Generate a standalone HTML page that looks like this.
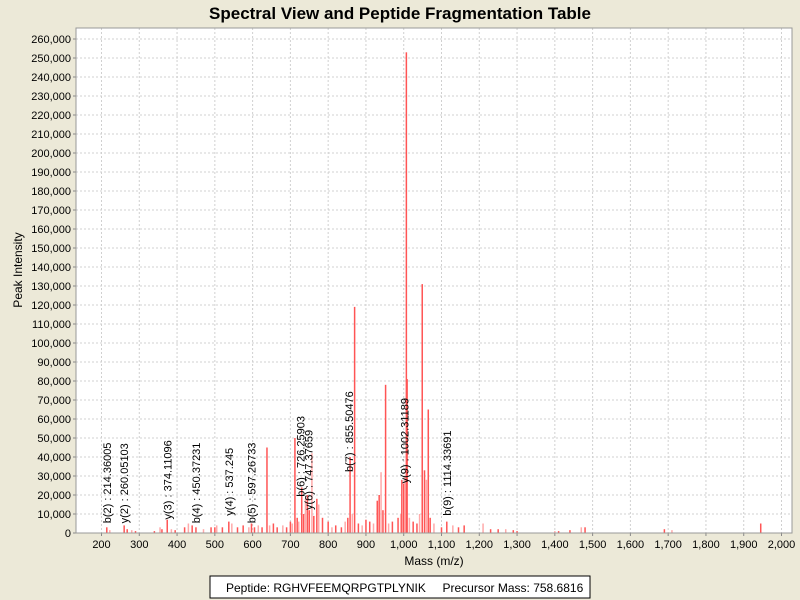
<!DOCTYPE html>
<html><head><meta charset="utf-8"><style>
body{margin:0;background:#ece9d8;font-family:"Liberation Sans",sans-serif;}
svg{display:block}
</style></head><body>
<svg id="chart" width="800" height="600">
<rect width="800" height="600" fill="#ece9d8"/>
<text x="400" y="19" text-anchor="middle" font-size="17" font-weight="bold" fill="#000">Spectral View and Peptide Fragmentation Table</text>
<rect x="76" y="28" width="716" height="505" fill="#fff"/>
<g id="grid"></g><g id="peaks"></g><g id="anns"></g><g id="axes"></g>
<rect x="76" y="28" width="716" height="505" fill="none" stroke="#999"/>
<text x="22" y="270" transform="rotate(-90 22 270)" text-anchor="middle" font-size="12">Peak Intensity</text>
<text x="434" y="565" text-anchor="middle" font-size="12">Mass (m/z)</text>
<g>
<rect x="210" y="576" width="380" height="22" fill="#fff" stroke="#000"/>
<text x="226" y="592" font-size="12" xml:space="preserve">Peptide: RGHVFEEMQRPGTPLYNIK     Precursor Mass: 758.6816</text>
</g>
</svg>
<script>
const xTicks=[200,300,400,500,600,700,800,900,1000,1100,1200,1300,1400,1500,1600,1700,1800,1900,2000];
const yTicks=[0,10000,20000,30000,40000,50000,60000,70000,80000,90000,100000,110000,120000,130000,140000,150000,160000,170000,180000,190000,200000,210000,220000,230000,240000,250000,260000];
const peakMz=[214,222,260,268,280,290,340,355,360,374,385,395,420,430,440,450,470,490,500,505,520,537,545,560,575,590,597,605,615,625,638,645,655,665,680,690,700,705,712,718,722,730,735,740,745,750,757,762,770,775,785,800,810,820,835,845,852,858,864,870,880,890,900,910,920,930,935,940,945,952,960,970,985,992,995,1000,1003,1007,1009,1015,1025,1035,1042,1049,1055,1060,1065,1070,1080,1100,1114,1130,1145,1160,1210,1230,1250,1270,1290,1300,1400,1410,1440,1470,1480,1690,1710,1945];
const peakInt=[3000,1500,4000,2000,1500,1000,1000,3000,2000,7000,2000,1500,3000,5000,4000,3000,2000,3000,3000,4000,3000,6000,5000,3000,4000,3000,5000,3000,4000,3000,45000,4000,5000,3000,4000,3000,6000,5000,50000,8000,6000,24000,10000,18000,20000,12000,42000,9000,18000,15000,8000,6000,3000,4000,3000,6000,8000,40000,10000,119000,5000,4000,7000,6000,5000,17000,20000,32000,12000,78000,5000,6000,8000,10000,28000,26000,30000,253000,81000,8000,6000,5000,10000,131000,33000,28000,65000,8000,5000,3000,6000,4000,3000,4000,5000,2000,2000,2000,1500,1000,1000,1000,1500,3000,3000,2000,1500,5000];
const annLabels=["b(2) : 214.36005","y(2) : 260.05103","y(3) : 374.11096","b(4) : 450.37231","y(4) : 537.245","b(5) : 597.26733","b(6) : 726.25903","y(6) : 747.37659","b(7) : 855.50476","y(9) : 1002.31189","b(9) : 1114.33691"];
const annMz=[214.36,260.05,374.11,450.37,537.25,597.27,726.26,747.38,855.50,1002.31,1114.34];
const annInt=[3000,3000,5000,3000,7000,3000,17000,10000,30000,24000,7000];

const X0=76,X1=792,Y0=533,Y1=28;
const xs=m=>101.5+(m-200)*0.37778;
const ys=v=>Y0-v*19/10000;
const NS="http://www.w3.org/2000/svg";
function mk(tag,attrs,parent){const e=document.createElementNS(NS,tag);for(const k in attrs)e.setAttribute(k,attrs[k]);parent.appendChild(e);return e;}
const grid=document.getElementById('grid'),axes=document.getElementById('axes'),pk=document.getElementById('peaks'),an=document.getElementById('anns');
xTicks.forEach(t=>{
  const x=xs(t);
  const g=mk('line',{x1:x,x2:x,y1:Y1,y2:Y0,stroke:'#d0d0d0','stroke-dasharray':'2,2'},grid);
  
  
  mk('line',{x1:x,x2:x,y1:Y0,y2:Y0+3,stroke:'#888'},axes);
  const tx=mk('text',{x:x,y:Y0+15,'text-anchor':'middle','font-size':'11'},axes);
  tx.textContent=t.toLocaleString('en-US');
  
  
});
yTicks.forEach(t=>{
  const y=ys(t);
  if(t>0){const g=mk('line',{x1:X0,x2:X1,y1:y,y2:y,stroke:'#d0d0d0','stroke-dasharray':'2,2'},grid);
  
  }
  mk('line',{x1:X0-3,x2:X0,y1:y,y2:y,stroke:'#888'},axes);
  const tx=mk('text',{x:X0-5,y:y+4,'text-anchor':'end','font-size':'11'},axes);
  tx.textContent=t.toLocaleString('en-US');
  
  
});
peakMz.forEach((m,i)=>{
  const x=xs(m),y=ys(peakInt[i]);
  const r=mk('rect',{x:x-0.75,y:y,width:1.5,height:Y0-y,fill:(i%3==1)?'#ffaaaa':'#ff5555'},pk);
  
  
});
annMz.forEach((m,i)=>{
  const x=xs(m)+4,y=ys(annInt[i])-4;
  const t=mk('text',{x:x,y:y,transform:`rotate(-90 ${x} ${y})`,'font-size':'11'},an);
  t.textContent=annLabels[i];
  
  
});
</script>
</body></html>
